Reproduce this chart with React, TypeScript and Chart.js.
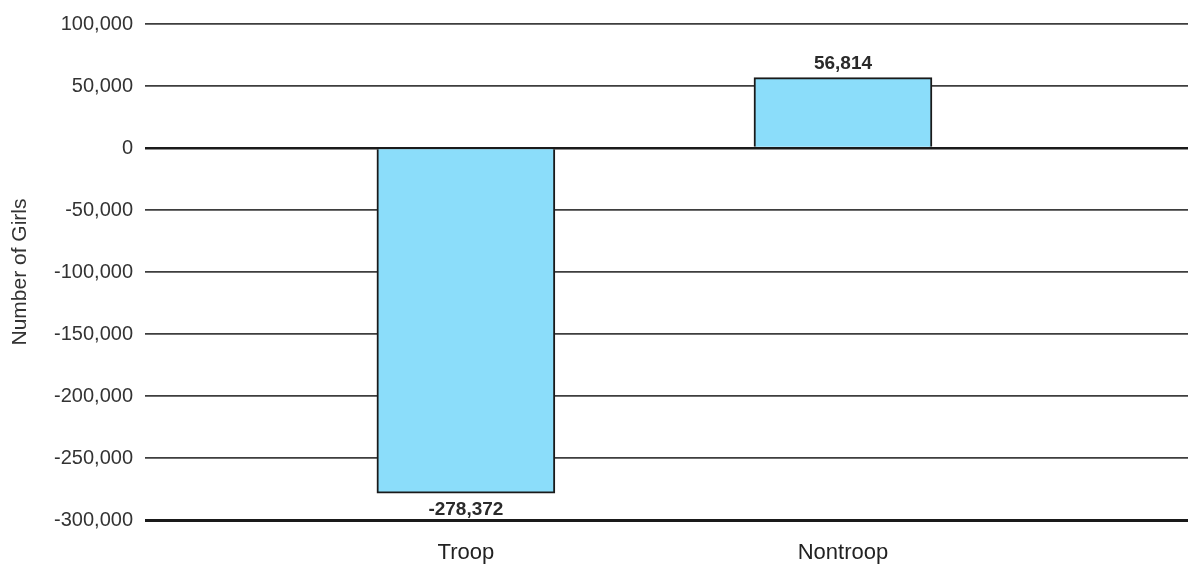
import React, { useEffect, useRef } from "react";
import { Chart, registerables } from "chart.js";

Chart.register(...registerables);

const categories = ["Troop", "Nontroop"];
const values = [-278372, 56814];
const categoryPositions = [1, 2];
const yTickValues = [100000, 50000, 0, -50000, -100000, -150000, -200000, -250000, -300000];
const yTitle = "Number of Girls";

const FONT = "'Liberation Sans', Arial, sans-serif";

const valueLabelPlugin = {
  id: "valueLabels",
  afterDatasetsDraw(chart: any) {
    const ctx = chart.ctx;
    const meta = chart.getDatasetMeta(0);
    ctx.save();
    ctx.font = `bold 19px ${FONT}`;
    ctx.fillStyle = "#2a2a2a";
    ctx.textAlign = "center";
    ctx.textBaseline = "middle";
    meta.data.forEach((el: any, i: number) => {
      const v = values[i];
      const txt = v.toLocaleString("en-US");
      ctx.fillText(txt, el.x, v >= 0 ? el.y - 14 : el.y + 17);
    });
    ctx.restore();
  },
};

export default function App() {
  const ref = useRef<HTMLCanvasElement>(null);
  useEffect(() => {
    document.body.style.margin = "0";
    const chart = new Chart(ref.current!, {
      type: "bar",
      data: {
        datasets: [
          {
            data: categoryPositions.map((x, i) => ({ x, y: values[i] })),
            backgroundColor: "#8BDDFA",
            borderColor: "#1a1a1a",
            borderWidth: 2,
            barThickness: 178,
          },
        ],
      },
      options: {
        animation: false,
        responsive: false,
        maintainAspectRatio: false,
        layout: { padding: { left: 8, right: 0, top: 14, bottom: 0 } },
        plugins: { legend: { display: false }, tooltip: { enabled: false } },
        scales: {
          x: {
            type: "linear",
            offset: false,
            min: 0.149,
            max: 2.915,
            afterBuildTicks: (scale: any) => {
              scale.ticks = categoryPositions.map((v) => ({ value: v }));
            },
            afterFit: (scale: any) => {
              scale.height = 45;
            },
            grid: { display: false, drawTicks: false },
            border: { display: false },
            ticks: {
              padding: 20,
              color: "#222",
              font: { family: FONT, size: 22 },
              callback: (v: any) => categories[categoryPositions.indexOf(Number(v))] ?? "",
              maxRotation: 0,
              autoSkip: false,
            },
          },
          y: {
            min: -300000,
            max: 100000,
            afterBuildTicks: (scale: any) => {
              scale.ticks = yTickValues.map((v) => ({ value: v }));
            },
            afterFit: (scale: any) => {
              scale.width = 137;
            },
            grid: {
              drawTicks: false,
              color: (c: any) =>
                c.tick && (c.tick.value === 0 || c.tick.value === -300000) ? "#1a1a1a" : "#3e3e3e",
              lineWidth: (c: any) =>
                c.tick && c.tick.value === -300000 ? 3 : c.tick && c.tick.value === 0 ? 2.5 : 1.8,
            },
            border: { display: false },
            ticks: {
              padding: 12,
              color: "#333",
              font: { family: FONT, size: 20 },
              callback: (v: any) => Number(v).toLocaleString("en-US"),
            },
            title: {
              display: true,
              text: yTitle,
              color: "#333",
              font: { family: FONT, size: 21 },
              padding: { top: 0, bottom: 0 },
            },
          },
        },
      },
      plugins: [valueLabelPlugin],
    });
    return () => chart.destroy();
  }, []);
  return (
    <div style={{ width: 1188, height: 565 }}>
      <canvas ref={ref} width={1188} height={565} />
    </div>
  );
}
